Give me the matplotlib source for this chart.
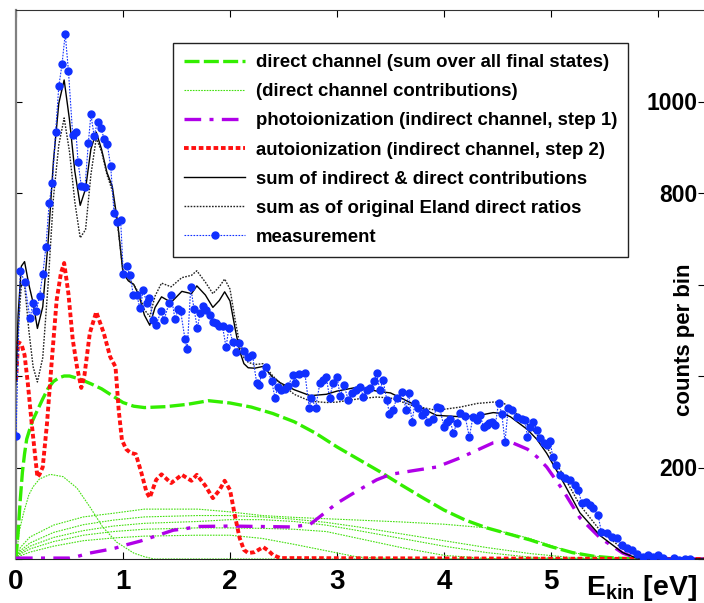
import matplotlib
matplotlib.use("Agg")
import matplotlib.pyplot as plt

plt.rcParams['font.family'] = ['Liberation Sans', 'DejaVu Sans']
plt.rcParams['font.weight'] = 'bold'
plt.rcParams['mathtext.fontset'] = 'custom'
plt.rcParams['mathtext.rm'] = 'Liberation Sans:bold'
plt.rcParams['mathtext.it'] = 'Liberation Sans:bold'

# ---------------- data ----------------
direct_E = [0, 0.02, 0.04, 0.06, 0.08, 0.1, 0.15, 0.2, 0.25, 0.3, 0.35, 0.4, 0.45, 0.5, 0.6, 0.7, 0.8,
            0.9, 1.0, 1.1, 1.2, 1.4, 1.6, 1.8, 2.0, 2.2, 2.4, 2.6, 2.8, 3.0, 3.2, 3.4, 3.6, 3.8, 4.0,
            4.2, 4.4, 4.6, 4.8, 5.0, 5.2, 5.4, 5.6, 5.8, 6.0, 6.43]
direct_V = [0, 60, 130, 190, 230, 262, 300, 325, 350, 373, 388, 396, 400, 400, 393, 383, 372,
            357, 342, 334, 331, 333, 338, 346, 341, 332, 318, 300, 275, 245, 218, 191, 162, 134, 107,
            85, 68, 55, 42, 27, 14, 6, 2, 0, 0, 0]

contrib1_E = [0, 0.03, 0.07, 0.12, 0.16, 0.22, 0.32, 0.44, 0.57, 0.69, 0.81, 0.94, 1.1, 1.2, 1.29, 6.43]
contrib1_V = [0, 60, 100, 140, 158, 175, 185, 180, 155, 114, 70, 37, 13, 5, 0, 0]
contrib_E = [0, 0.04, 0.13, 0.35, 0.63, 0.91, 1.2, 1.7, 2.0, 2.3, 2.6, 2.9, 3.2, 3.6, 4.0, 4.4, 4.8,
             5.2, 5.5, 5.8, 6.43]
contrib2_V = [0, 25, 48, 74, 92, 100, 109, 109, 103, 95, 91, 88, 85, 81, 76, 68, 45, 14, 3, 0, 0]
contrib3_V = [0, 18, 35, 58, 75, 85, 92, 95, 95, 92, 87, 80, 70, 55, 40, 25, 12, 3, 0, 0, 0]
contrib4_V = [0, 14, 28, 47, 62, 72, 78, 82, 86, 86, 82, 74, 62, 45, 28, 14, 4, 0, 0, 0, 0]
contrib5_V = [0, 11, 22, 38, 52, 60, 65, 68, 68, 67, 65, 60, 45, 25, 8, 1, 0, 0, 0, 0, 0]
contrib6_V = [0, 7, 15, 28, 40, 46, 50, 52, 52, 45, 32, 18, 4, 0, 0, 0, 0, 0, 0, 0, 0]

photo_E = [0, 0.5, 0.58, 0.69, 0.85, 0.93, 1.03, 1.16, 1.25, 1.38, 1.47, 1.58, 1.69, 2.0, 2.59,
           2.75, 3.0, 3.19, 3.37, 3.5, 3.71, 3.93, 4.03, 4.15, 4.31, 4.46, 4.55, 4.62, 4.78, 4.87,
           4.96, 5.11, 5.27, 5.46, 5.67, 5.8, 6.43]
photo_V = [2, 2, 6, 13, 20, 24, 31, 39, 46, 56, 63, 66, 71, 72, 70,
           76, 122, 149, 173, 185, 193, 201, 210, 221, 238, 254, 257, 256, 240, 223,
           201, 151, 90, 46, 13, 2, 0]

auto_E = [0.0, 0.02, 0.05, 0.08, 0.11, 0.15, 0.18, 0.2, 0.22, 0.25, 0.29, 0.33, 0.38, 0.42, 0.45,
          0.49, 0.53, 0.57, 0.61, 0.64, 0.69, 0.75, 0.82, 0.88, 0.93, 0.96, 0.99, 1.03, 1.07, 1.12,
          1.17, 1.22, 1.25, 1.31, 1.36, 1.45, 1.55, 1.64, 1.69, 1.77, 1.84, 1.9, 1.95, 2.0, 2.05,
          2.09, 2.13, 2.17, 2.23, 2.31, 2.36, 2.4, 2.47, 6.43]
auto_V = [390, 474, 470, 446, 385, 289, 223, 179, 185, 201, 297, 420, 566, 625, 647,
          580, 480, 420, 374, 402, 494, 540, 494, 442, 420, 325, 260, 240, 232, 229,
          190, 146, 134, 173, 185, 166, 184, 171, 184, 160, 133, 150, 171, 151, 90,
          46, 20, 13, 15, 26, 18, 9, 2, 0]

sum_E = [0, 0.02, 0.05, 0.08, 0.12, 0.16, 0.2, 0.25, 0.3, 0.35, 0.4, 0.45, 0.5, 0.55, 0.6, 0.65,
         0.7, 0.75, 0.8, 0.85, 0.9, 0.95, 1.0, 1.05, 1.1, 1.15, 1.2, 1.25, 1.3, 1.36, 1.45, 1.55,
         1.64, 1.69, 1.77, 1.84, 1.9, 1.95, 2.0, 2.05, 2.09, 2.13, 2.17, 2.23, 2.31, 2.4, 2.47,
         2.6, 2.75, 2.9, 3.0, 3.2, 3.37, 3.5, 3.71, 3.93, 4.15, 4.31, 4.46, 4.55, 4.62, 4.78, 4.87,
         4.96, 5.11, 5.27, 5.46, 5.67, 5.8, 6.0, 6.43]
sum_V = [390, 534, 640, 650, 600, 560, 504, 551, 693, 870, 996, 1047, 960, 847, 773, 809,
         896, 933, 895, 845, 814, 735, 625, 608, 600, 576, 533, 511, 550, 573, 561, 585,
         580, 597, 577, 550, 565, 584, 564, 501, 455, 427, 418, 417, 421, 397, 385,
         370, 357, 360, 367, 376, 367, 363, 339, 314, 311, 313, 320, 318, 311, 283, 261,
         231, 170, 101, 51, 14, 2, 0, 0]

eland_E = sum_E
eland_V = [380, 500, 600, 600, 500, 420, 387, 440, 600, 790, 905, 964, 890, 780, 702, 720,
           840, 920, 890, 840, 805, 730, 630, 612, 600, 580, 545, 530, 575, 603, 595, 615,
           620, 630, 605, 580, 595, 612, 590, 520, 470, 440, 430, 425, 427, 400, 385,
           360, 345, 342, 343, 350, 354, 352, 335, 325, 332, 340, 343, 342, 330, 295, 271,
           245, 185, 118, 62, 22, 8, 0, 0]

meas_E = [0.0, 0.04, 0.08, 0.13, 0.16, 0.19, 0.22, 0.25, 0.28, 0.31, 0.34, 0.37, 0.40, 0.43, 0.46,
          0.49, 0.53, 0.56, 0.58, 0.61, 0.645, 0.676, 0.70, 0.73, 0.763, 0.794, 0.825, 0.853,
          0.885, 0.916, 0.947, 0.978, 1.003, 1.034, 1.065, 1.096, 1.128, 1.159, 1.19, 1.22,
          1.246, 1.283, 1.308, 1.355, 1.383, 1.43, 1.449, 1.486, 1.517, 1.539, 1.579, 1.60,
          1.633, 1.664, 1.695, 1.72, 1.75, 1.78, 1.81, 1.844, 1.87, 1.90, 1.93, 1.963, 1.99,
          2.025, 2.056, 2.087, 2.13, 2.17, 2.21, 2.25, 2.27, 2.296, 2.34, 2.39, 2.42, 2.45,
          2.48, 2.515, 2.545, 2.586, 2.607, 2.648, 2.70, 2.74, 2.76, 2.80, 2.84, 2.87, 2.90,
          2.93, 2.966, 3.0, 3.03, 3.065, 3.105, 3.14, 3.18, 3.215, 3.246, 3.28, 3.31, 3.346,
          3.37, 3.40, 3.43, 3.465, 3.49, 3.52, 3.56, 3.61, 3.645, 3.67, 3.70, 3.73, 3.76, 3.79,
          3.82, 3.85, 3.90, 3.93, 3.96, 4.0, 4.03, 4.056, 4.087, 4.12, 4.15, 4.196, 4.237, 4.27,
          4.31, 4.336, 4.37, 4.40, 4.42, 4.45, 4.48, 4.51, 4.54, 4.57, 4.60, 4.633, 4.68, 4.73,
          4.757, 4.78, 4.80, 4.835, 4.87, 4.90, 4.93, 4.96, 4.99, 5.016, 5.05, 5.08, 5.13, 5.18,
          5.22, 5.255, 5.287, 5.33, 5.36, 5.395, 5.44, 5.47, 5.52, 5.567, 5.614, 5.66, 5.707,
          5.754, 5.80, 5.86, 5.91, 5.95, 6.0, 6.05, 6.09, 6.15, 6.2, 6.25, 6.3]
meas_V = [269, 630, 606, 526, 559, 541, 575, 622, 683, 779, 821, 933, 1033, 1081, 1148,
          1067, 927, 934, 868, 816, 814, 909, 972, 925, 956, 941, 918, 907,
          858, 757, 736, 741, 623, 640, 621, 578, 577, 548, 588, 560,
          570, 522, 511, 541, 522, 559, 577, 524, 546, 541, 481, 458,
          594, 546, 504, 537, 553, 544, 533, 519, 515, 509, 509, 463, 506,
          475, 453, 473, 455, 442, 446, 384, 380, 404, 420, 388, 353, 377,
          369, 372, 378, 402, 385, 404, 406, 331, 353, 331, 384, 391, 398,
          353, 385, 398, 356, 380, 348, 362, 369, 377, 355, 369, 373, 388,
          406, 369, 391, 348, 318, 326, 351, 366, 326, 362, 300, 340, 330, 315,
          322, 300, 305, 333, 329, 289, 300, 305, 275, 297, 320, 313, 267, 310,
          304, 315, 289, 293, 298, 300, 293, 342, 318, 256, 329, 326, 311, 305,
          304, 267, 289, 300, 282, 264, 253, 250, 259, 224, 205, 184, 176, 173,
          162, 151, 122, 125, 118, 111, 96, 60, 56, 49, 45, 31, 23,
          20, 12, 5, 9, 4, 9, 3, -4, 2, -3, 1, 0]

x_ticks = [0, 1, 2, 3, 4, 5, 6]
x_ticklabels = ['0', '1', '2', '3', '4', '5', '']
y_ticks = [0, 200, 400, 600, 800, 1000]
y_ticklabels = ['', '200', '', '', '800', '1000']

labels = ['direct channel (sum over all final states)',
          '(direct channel contributions)',
          'photoionization (indirect channel, step 1)',
          'autoionization (indirect channel, step 2)',
          'sum of indirect & direct contributions',
          'sum as of original Eland direct ratios',
          'measurement']

# ---------------- figure ----------------
W, H = 704, 603
fig = plt.figure(figsize=(W / 100, H / 100), dpi=100)
ax = fig.add_axes([16 / W, 44 / H, 688 / W, 549 / H])

green = '#33ee00'
thin_green = '#44e010'
purple = '#b000e8'
red = '#ff1010'
blue = '#1030ff'

ax.plot(direct_E, direct_V, color=green, lw=2.4, linestyle=(0, (4.5, 1.3)), label=labels[0], zorder=3)
ax.plot(contrib1_E, contrib1_V, color=thin_green, lw=0.8, linestyle=(0, (1.5, 1)), label=labels[1], zorder=2)
for cv in [contrib2_V, contrib3_V, contrib4_V, contrib5_V, contrib6_V]:
    ax.plot(contrib_E, cv, color=thin_green, lw=0.8, linestyle=(0, (1.5, 1)), label='_nolegend_', zorder=2)
ax.plot(photo_E, photo_V, color=purple, lw=2.4, linestyle=(0, (5, 2.5, 1.2, 2.5)), label=labels[2], zorder=3)
ax.plot(auto_E, auto_V, color=red, lw=2.8, linestyle=(0, (1.2, 0.7)), label=labels[3], zorder=3)
ax.plot(sum_E, sum_V, color='black', lw=1.0, label=labels[4], zorder=4)
ax.plot(eland_E, eland_V, color='#222222', lw=1.0, linestyle=(0, (1.2, 1.0)), label=labels[5], zorder=4)
ax.plot(meas_E, meas_V, color=blue, lw=0.8, linestyle=(0, (1.5, 1.2)), marker='o', markersize=5,
        markerfacecolor=blue, markeredgecolor=blue, label=labels[6], zorder=5)

ax.set_xlim(0, 6.43)
ax.set_ylim(0, 1200)

ax.set_xticks(x_ticks)
ax.set_xticklabels(x_ticklabels)
ax.set_yticks(y_ticks)
ax.set_yticklabels(y_ticklabels)
ax.tick_params(axis='x', direction='in', top=True, bottom=True, length=5, labelsize=20, pad=7)
ax.tick_params(axis='y', direction='in', left=True, right=True, labelleft=False, labelright=True,
               length=4, labelsize=16.5, pad=-5)
for t in ax.yaxis.get_major_ticks():
    t.label2.set_horizontalalignment('right')

ax.spines['right'].set_visible(False)
ax.spines['left'].set_color('#808080')
ax.spines['left'].set_linewidth(1.6)
ax.spines['top'].set_color('#333333')
ax.spines['bottom'].set_color('#222222')

ax.text(0.972, 0.40, 'counts per bin', rotation=90, transform=ax.transAxes,
        ha='center', va='center', fontsize=16)
fig.text(586 / W, 8 / H, r'E$_\mathregular{kin}$ [eV]', fontsize=20.5, ha='left', va='baseline')

leg = ax.legend(loc='upper left', bbox_to_anchor=(0.228, 0.940), borderaxespad=0,
                fontsize=13.4, handlelength=3.3, handletextpad=0.55, labelspacing=0.65,
                borderpad=0.6, fancybox=False, framealpha=1, edgecolor='#222222')
leg.get_frame().set_linewidth(1.0)

fig.savefig('out.png', dpi=100)
